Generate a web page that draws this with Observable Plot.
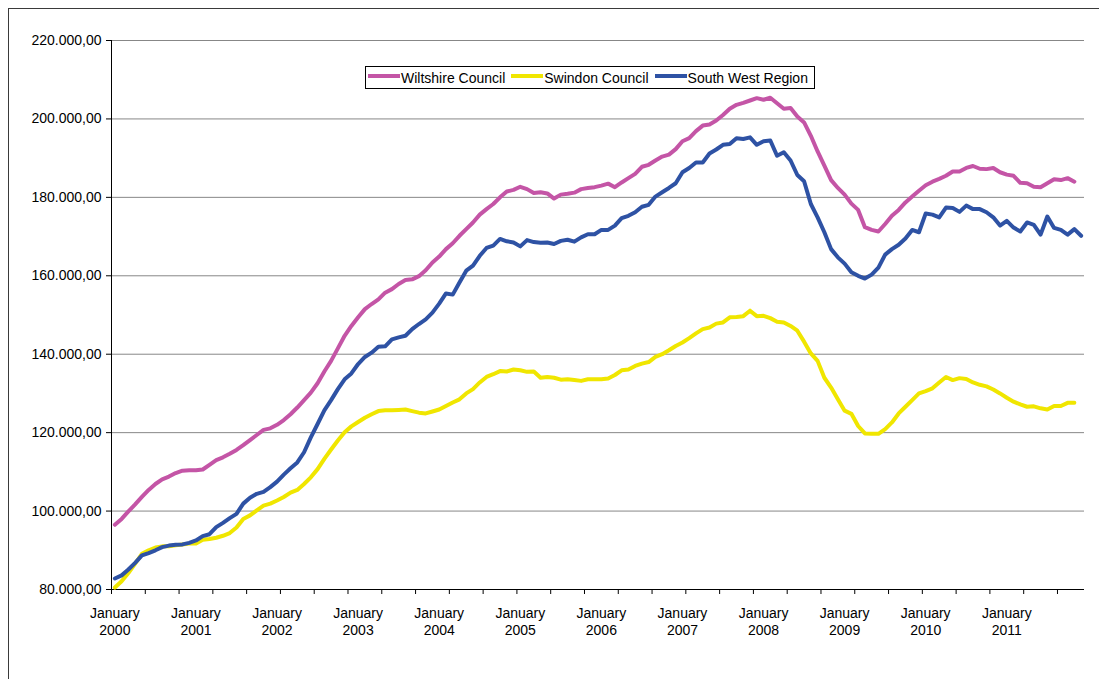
<!DOCTYPE html>
<html><head><meta charset="utf-8">
<script src="https://cdn.jsdelivr.net/npm/d3@7"></script>
<script src="https://cdn.jsdelivr.net/npm/@observablehq/plot@0.6"></script>
<style>
html,body{margin:0;padding:0;background:#fff;}
#wrap{position:relative;width:1099px;height:679px;overflow:hidden;font-family:"Liberation Sans",Arial,sans-serif;background:#fff;}
#chart{position:absolute;left:0;top:0;}
#frame{position:absolute;left:8px;top:8px;width:1200px;height:800px;border-left:1px solid #3a3a3a;border-top:1px solid #3a3a3a;pointer-events:none;}
#legend{position:absolute;left:365px;top:66px;width:450px;height:23px;box-sizing:border-box;border:1px solid #000;background:#fff;display:flex;align-items:center;font-size:14px;color:#000;padding-left:2px;white-space:nowrap;}
#legend .sw{display:inline-block;width:32px;height:4px;margin-top:-3px;}
#legend .tx{margin-left:1px;margin-right:6px;line-height:14px;}
</style></head><body>
<div id="wrap"><div id="chart"></div><div id="legend"></div><div id="frame"></div></div>
<script>
// Series names and colours
const seriesNames = ["Wiltshire Council", "Swindon Council", "South West Region"];
const seriesColors = ["#C455A6", "#F0E600", "#2E52A4"];

// Category axis labels (one label per January, monthly data Jan 2000 - Dec 2011)
const yearLabels = ["2000","2001","2002","2003","2004","2005","2006","2007","2008","2009","2010","2011"];
const monthCount = 144;

// Y-axis tick values
const yTicks = [80000, 100000, 120000, 140000, 160000, 180000, 200000, 220000];

// Monthly values (thousands)
const wiltshire = [
 96.5,98.0,99.9,101.7,103.6,105.4,106.9,108.1,108.8,109.7,110.3,110.4,
 110.4,110.6,111.8,113.0,113.7,114.6,115.6,116.8,118.1,119.4,120.7,121.1,
 122.0,123.2,124.7,126.4,128.3,130.2,132.6,135.6,138.3,141.5,144.7,147.2,
 149.4,151.5,152.8,154.0,155.7,156.6,157.9,158.9,159.1,159.9,161.4,163.4,
 164.9,166.8,168.3,170.2,171.9,173.6,175.6,177.0,178.3,180.0,181.5,181.9,
 182.7,182.1,181.1,181.3,181.0,179.7,180.7,180.9,181.2,182.1,182.4,182.6,
 183.0,183.5,182.6,183.8,184.9,186.0,187.8,188.3,189.4,190.4,190.9,192.3,
 194.3,195.1,196.9,198.3,198.6,199.6,201.0,202.6,203.6,204.1,204.7,205.3,
 204.9,205.4,204.0,202.6,202.8,200.6,199.1,195.7,191.7,188.1,184.4,182.4,
 180.7,178.4,176.8,172.4,171.7,171.3,173.2,175.3,176.8,178.7,180.2,181.7,
 183.1,184.0,184.7,185.5,186.6,186.6,187.5,188.0,187.3,187.2,187.5,186.4,
 185.8,185.5,183.7,183.6,182.7,182.6,183.6,184.6,184.4,184.9,184.0
];
const swindon = [
 80.5,82.1,84.2,86.6,89.1,90.0,90.7,91.0,91.0,91.3,91.5,91.7,
 91.7,92.7,92.9,93.2,93.7,94.4,95.8,98.0,98.9,100.2,101.4,101.9,
 102.7,103.6,104.7,105.4,106.9,108.6,110.7,113.3,115.7,118.0,120.1,121.6,
 122.7,123.8,124.7,125.5,125.7,125.7,125.8,125.9,125.5,125.1,124.9,125.4,
 125.9,126.8,127.7,128.5,130.0,131.1,132.8,134.2,134.9,135.7,135.6,136.1,
 135.9,135.5,135.6,134.0,134.2,134.0,133.5,133.6,133.4,133.2,133.6,133.6,
 133.6,133.8,134.7,135.9,136.1,137.0,137.6,138.0,139.3,140.0,141.0,142.1,
 143.0,144.1,145.3,146.4,146.8,147.8,148.1,149.4,149.5,149.7,151.1,149.7,
 149.8,149.2,148.3,148.1,147.2,146.0,143.2,140.2,138.3,134.0,131.5,128.5,
 125.6,124.8,121.7,119.8,119.7,119.7,120.9,122.6,124.9,126.6,128.3,130.0,
 130.6,131.3,132.8,134.2,133.4,133.9,133.7,132.8,132.2,131.8,131.0,130.0,
 128.9,127.9,127.2,126.6,126.7,126.2,125.9,126.8,126.8,127.6,127.6
];
const southWest = [
 82.8,83.6,85.1,86.8,88.7,89.3,90.0,90.8,91.2,91.4,91.5,91.9,
 92.5,93.6,94.1,95.9,97.0,98.2,99.3,101.9,103.4,104.4,104.9,106.1,
 107.5,109.3,110.9,112.4,115.0,118.8,122.2,125.7,128.3,131.1,133.6,135.1,
 137.5,139.3,140.4,141.9,142.0,143.8,144.3,144.7,146.4,147.7,148.9,150.6,
 152.9,155.5,155.2,158.3,161.3,162.6,165.1,167.1,167.7,169.4,168.8,168.5,
 167.5,169.1,168.6,168.4,168.5,168.1,168.9,169.2,168.7,169.8,170.6,170.6,
 171.7,171.7,172.8,174.7,175.3,176.2,177.6,178.1,180.2,181.3,182.4,183.6,
 186.4,187.5,188.9,188.9,191.2,192.2,193.4,193.6,195.1,194.9,195.3,193.4,
 194.3,194.5,190.6,191.5,189.4,185.7,184.1,178.3,174.9,171.1,166.8,164.7,
 163.1,160.9,160.0,159.3,160.3,162.1,165.4,166.8,167.9,169.5,171.7,171.1,
 175.9,175.6,174.9,177.4,177.3,176.3,177.9,177.0,177.0,176.2,174.9,172.8,
 174.0,172.3,171.3,173.6,173.0,170.5,175.1,172.2,171.7,170.5,171.9,170.2
];

const seriesValues = [wiltshire, swindon, southWest];
const table = [];
seriesValues.forEach((vals, s) => vals.forEach((v, i) =>
  table.push({series: seriesNames[s], month: i + 0.5, value: v * 1000})));

const locale = d3.formatLocale({decimal: ",", thousands: ".", grouping: [3], currency: ["", ""]});
const fmt = locale.format(",.2f");

const tickPositions = d3.range(0, monthCount, 5);
const labelMap = new Map(yearLabels.map((y, j) => [j * 12 + 0.5, "January\n" + y]));

const chart = Plot.plot({
  width: 1099, height: 679,
  marginLeft: 111, marginRight: 15, marginTop: 40, marginBottom: 90,
  style: {fontFamily: '"Liberation Sans", Arial, sans-serif', fontSize: "14px", background: "transparent", color: "#000"},
  x: {domain: [0, monthCount]},
  y: {domain: [80000, 220000]},
  color: {domain: seriesNames, range: seriesColors},
  marks: [
    Plot.gridY(yTicks, {stroke: "#878787", strokeOpacity: 1}),
    Plot.axisY(yTicks, {tickFormat: fmt, tickSize: 5, tickPadding: 5, fontSize: 14, label: null}),
    Plot.axisX(tickPositions, {tickFormat: () => "", tickSize: 5, label: null}),
    Plot.axisX([...labelMap.keys()], {tickSize: 0, tickPadding: 16, tickFormat: d => labelMap.get(d), lineHeight: 1.24, fontSize: 14, label: null}),
    Plot.ruleX([0], {stroke: "#000"}),
    Plot.ruleY([80000], {stroke: "#000"}),
    Plot.line(table, {x: "month", y: "value", z: "series", stroke: "series", strokeWidth: 4, strokeLinejoin: "round"})
  ]
});
document.getElementById("chart").appendChild(chart);

// Legend
const legend = document.getElementById("legend");
seriesNames.forEach((n, k) => {
  const sw = document.createElement("span");
  sw.className = "sw"; sw.style.background = seriesColors[k];
  const tx = document.createElement("span");
  tx.className = "tx"; tx.textContent = n;
  legend.appendChild(sw); legend.appendChild(tx);
});
</script>
</body></html>
